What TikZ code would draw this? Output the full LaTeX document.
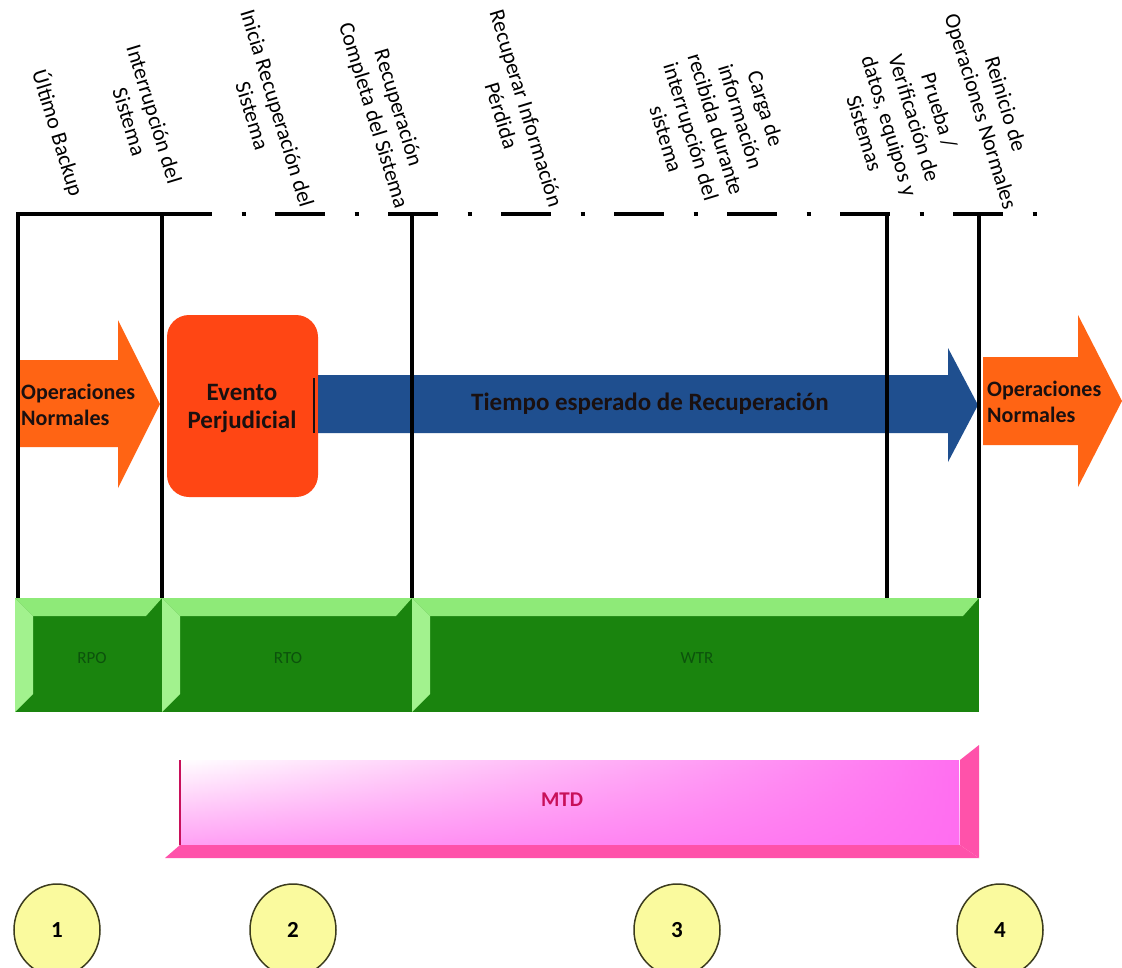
\documentclass[tikz,border=0pt]{standalone}
\usepackage{fontspec}
\setmainfont{Carlito}
\usetikzlibrary{shapes.geometric,fadings}
\definecolor{cOrange}{HTML}{FF6414}
\definecolor{cRed}{HTML}{FF4614}
\definecolor{cBlue}{HTML}{1F4F8F}
\definecolor{cGface}{HTML}{1A840E}
\definecolor{cGtop}{HTML}{8EEA78}
\definecolor{cGleft}{HTML}{A2F28E}
\definecolor{cGtxt}{HTML}{0C520C}
\definecolor{cMtd}{HTML}{FF6EF0}
\definecolor{cMtdBev}{HTML}{FF52AA}
\definecolor{cMtdTxt}{HTML}{C8105A}
\definecolor{cCirc}{HTML}{FAFA9E}
\definecolor{cCircLine}{HTML}{3C3C1E}
\definecolor{cDark}{HTML}{1A1010}
\tikzfading[name=mtdfade, left color=transparent!100, middle color=transparent!88, right color=transparent!0]
\newcommand\greenblk[4]{%
  \fill[cGface] (#1,598) rectangle (#2,712);
  \fill[cGtop] (#1,598) -- (#2,598) -- ({#2-16},616) -- ({#1+18},616) -- cycle;
  \fill[cGleft] (#1,598) -- ({#1+18},616) -- ({#1+18},694) -- (#1,712) -- cycle;
  \node[gtext] (g#3) at (#4,658) {#3};
}
\begin{document}
\begin{tikzpicture}[x=1pt,y=-1pt,
  lbl/.style={rotate=-73, align=center, inner sep=0pt, font=\fontsize{22}{26}\selectfont},
  tick/.style={line width=4pt, black},
  arrowtext/.style={align=left, inner sep=0pt, anchor=west, text=cDark, font=\bfseries\fontsize{22}{26}\selectfont},
  gtext/.style={text=cGtxt, inner sep=0pt, font=\fontsize{17}{20}\selectfont},
  circ/.style={ellipse, draw=cCircLine, line width=1.5pt, fill=cCirc, minimum width=86pt, minimum height=92pt, inner sep=0pt, font=\bfseries\fontsize{23}{24}\selectfont}]
\useasboundingbox (0,0) rectangle (1122,967);
\fill[white] (0,0) rectangle (1122,967);

% --- arrows and event box
\fill[cOrange] (18,360) -- (118,360) -- (118,320) -- (160,404) -- (118,488) -- (118,447) -- (18,447) -- cycle;
\node[arrowtext] (opl) at (21,405) {Operaciones\\Normales};

\fill[cRed, rounded corners=22pt] (167,315) rectangle (318,497);
\node[align=center, inner sep=0pt, text=cDark, font=\bfseries\fontsize{25}{28}\selectfont] (ev) at (242,408) {Evento\\Perjudicial};

\fill[cBlue] (318,375) -- (948,375) -- (948,348) -- (978,405) -- (948,462) -- (948,433) -- (318,433) -- cycle;
\draw[line width=1.2pt, cDark] (314,378) -- (314,433);
\node[inner sep=0pt, text=cDark, font=\bfseries\fontsize{25}{27}\selectfont] (tr) at (650,404) {Tiempo esperado de Recuperación};

\fill[cOrange] (983,357) -- (1078,357) -- (1078,315) -- (1122,401) -- (1078,487) -- (1078,445) -- (983,445) -- cycle;
\node[arrowtext] (opr) at (987,402) {Operaciones\\Normales};

% --- timeline
\coordinate (t1) at (18,214);   \coordinate (b1) at (18,598);
\coordinate (t2) at (162,214);  \coordinate (b2) at (162,598);
\coordinate (t3) at (412,214);  \coordinate (b3) at (412,598);
\coordinate (t4) at (887,214);  \coordinate (b4) at (887,598);
\coordinate (t5) at (979,214);  \coordinate (b5) at (979,598);
\coordinate (tend) at (1040,214);
\draw[tick, line join=miter] (b1) -- (t1) -- (t2);
\draw[tick, dash pattern=on 50pt off 29.5pt on 4pt off 29.5pt] (t2) -- (tend);
\foreach \i in {2,3,4,5} \draw[tick] (t\i) -- (b\i);

% --- labels
\node[lbl] (l1) at (58,133) {Último Backup};
\node[lbl] (l2) at (142,118) {Interrupción del\\Sistema};
\node[lbl] (l3) at (265,112) {Inicia Recuperación del\\Sistema};
\node[lbl] (l4) at (385,112) {Recuperación\\Completa del Sistema};
\node[lbl] (l5) at (514,112) {Recuperar Información\\Pérdida};
\node[lbl] (l6) at (716,124) {Carga de\\información\\recibida durante\\interrupción del\\sistema};
\node[lbl] (l7) at (902,122) {Prueba /\\Verificación de\\datos, equipos y\\Sistemas};
\node[lbl] (l8) at (992,108) {Reinicio de\\Operaciones Normales};

% --- green blocks
\greenblk{15}{162}{RPO}{92}
\greenblk{162}{412}{RTO}{288}
\greenblk{412}{979}{WTR}{697}

% --- MTD bar
\shade[top color=white, middle color=white, bottom color=cMtd!65!white] (180,760) rectangle (960,845);
\fill[cMtd, path fading=mtdfade] (180,760) rectangle (960,845);
\fill[cMtdBev] (979,745) -- (979,858) -- (960,845) -- (960,760) -- cycle;
\fill[cMtdBev] (165,858) -- (979,858) -- (960,845) -- (180,845) -- cycle;
\draw[line width=1.2pt, cMtdTxt] (180,760) -- (180,845);
\node[inner sep=0pt, text=cMtdTxt, font=\bfseries\fontsize{21}{24}\selectfont] (mtd) at (562,800) {MTD};

% --- numbered circles
\node[circ] (c1) at (57,930) {1};
\node[circ] (c2) at (293,930) {2};
\node[circ] (c3) at (677,930) {3};
\node[circ] (c4) at (1000,930) {4};
\end{tikzpicture}
\end{document}
